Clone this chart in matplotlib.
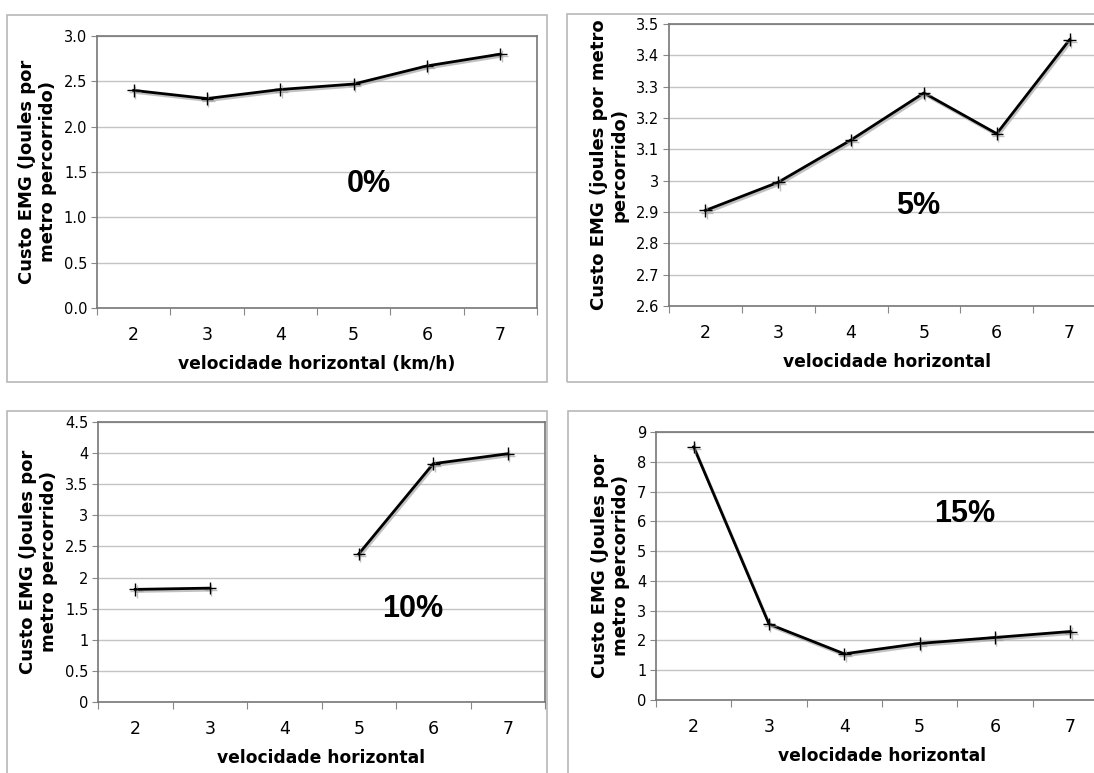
import numpy as np
import matplotlib
matplotlib.use('Agg')
import matplotlib.pyplot as plt
import matplotlib.patheffects as pe
from matplotlib.patches import Rectangle

# Dados (velocidade horizontal em km/h)
velocidades = [2, 3, 4, 5, 6, 7]
custo_0 = [2.40, 2.31, 2.41, 2.47, 2.67, 2.80]
custo_5 = [2.905, 2.995, 3.13, 3.28, 3.15, 3.45]
custo_10 = [1.81, 1.83, np.nan, 2.38, 3.83, 3.99]
custo_15 = [8.5, 2.55, 1.55, 1.9, 2.1, 2.3]

rotulos = ['0%', '5%', '10%', '15%']
ylabels = ['Custo EMG (Joules por\nmetro percorrido)',
           'Custo EMG (joules por metro\npercorrido)',
           'Custo EMG (Joules por\nmetro percorrido)',
           'Custo EMG (Joules por\nmetro percorrido)']
xlabels = ['velocidade horizontal (km/h)', 'velocidade horizontal',
           'velocidade horizontal', 'velocidade horizontal']
yticks = [np.arange(0, 3.01, 0.5), np.arange(2.6, 3.51, 0.1),
          np.arange(0, 4.51, 0.5), np.arange(0, 9.1, 1)]
yticklabels = [['%.1f' % v for v in yticks[0]],
               ['2.6', '2.7', '2.8', '2.9', '3', '3.1', '3.2', '3.3', '3.4', '3.5'],
               ['0', '0.5', '1', '1.5', '2', '2.5', '3', '3.5', '4', '4.5'],
               [str(int(v)) for v in yticks[3]]]
# posicao do texto grande (coord. de dados)
txt_pos = [(5.2, 1.37), (4.92, 2.92), (5.73, 1.5), (5.6, 6.25)]

W, H = 1094, 773
fig = plt.figure(figsize=(W / 100, H / 100), dpi=100)

def fr(l, t, r, b):
    return [l / W, 1 - b / H, (r - l) / W, (b - t) / H]

# molduras cinzas
for (l, t, r, b) in [(7, 15, 547, 382), (567, 14, 1100, 382),
                     (7, 411, 547, 780), (568, 411, 1100, 780)]:
    fig.patches.append(Rectangle((l / W, 1 - b / H), (r - l) / W, (b - t) / H,
                                 transform=fig.transFigure, fill=False,
                                 edgecolor='#b8b8b8', linewidth=1.2))

eixos = [fr(97, 36, 537, 308), fr(669, 24, 1106, 306),
         fr(98, 422, 545, 702), fr(656, 432, 1108, 700)]
dados = [custo_0, custo_5, custo_10, custo_15]

for i in range(4):
    ax = fig.add_axes(eixos[i])
    ax.plot(velocidades, dados[i], color='black', linewidth=2,
            marker='+', markersize=9, markeredgewidth=1.0,
            path_effects=[pe.SimpleLineShadow(offset=(1, -1.5), shadow_color='#999999', alpha=0.6),
                          pe.Normal()], zorder=3)
    ax.set_xlim(1.5, 7.5)
    ax.set_ylim(yticks[i][0], yticks[i][-1])
    ax.set_yticks(yticks[i])
    ax.set_yticklabels(yticklabels[i], fontsize=10.5)
    ax.set_xticks(np.arange(1.5, 7.6, 1))
    ax.set_xticklabels([])
    ax.set_xticks(velocidades, minor=True)
    ax.set_xticklabels([str(v) for v in velocidades], minor=True, fontsize=12.5)
    ax.tick_params(axis='x', which='minor', length=0, pad=13)
    ax.tick_params(axis='x', which='major', length=5, color='#888888')
    ax.tick_params(axis='y', length=4, color='#888888', pad=3)
    ax.grid(axis='y', color='#c4c4c4', linewidth=1)
    ax.set_axisbelow(True)
    for s in ax.spines.values():
        s.set_color('#777777')
        s.set_linewidth(1.2)
    ax.set_ylabel(ylabels[i], fontsize=13, fontweight='bold', labelpad=5)
    ax.set_xlabel(xlabels[i], fontsize=12.3, fontweight='bold', labelpad=8)
    ax.text(txt_pos[i][0], txt_pos[i][1], rotulos[i], fontsize=22, fontweight='bold',
            family='Liberation Sans', ha='center', va='center')

fig.savefig('out.png', dpi=100)
